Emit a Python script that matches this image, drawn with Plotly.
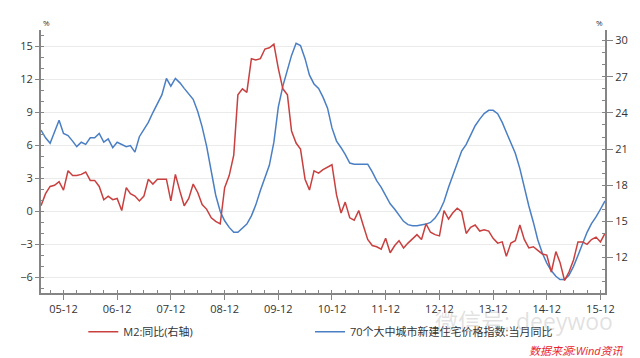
import pandas as pd
import plotly.graph_objects as go

# ---- data (monthly, 2005-07 .. 2016-01) ----
months = pd.date_range("2005-07-01", "2016-01-01", freq="MS")

m2_yoy = [
    16.3, 17.3, 17.9, 18.0, 18.3, 17.6,
    19.2, 18.8, 18.8, 18.9, 19.1, 18.4, 18.4, 17.9, 16.8, 17.1, 16.8, 16.9,
    15.9, 17.8, 17.3, 17.1, 16.7, 17.1, 18.5, 18.1, 18.5, 18.5, 18.5, 16.7,
    18.9, 17.5, 16.3, 16.9, 18.1, 17.4, 16.4, 16.0, 15.3, 15.0, 14.8, 17.8,
    18.8, 20.5, 25.5, 26.0, 25.7, 28.5, 28.4, 28.5, 29.3, 29.4, 29.7, 27.7,
    26.0, 25.5, 22.5, 21.5, 21.0, 18.5, 17.6, 19.2, 19.0, 19.3, 19.5, 19.7,
    17.2, 15.7, 16.6, 15.3, 15.1, 15.9, 14.7, 13.5, 13.0, 12.9, 12.7, 13.6,
    12.4, 13.0, 13.4, 12.8, 13.2, 13.6, 13.9, 13.5, 14.8, 14.1, 13.9, 13.8,
    15.9, 15.2, 15.7, 16.1, 15.8, 14.0, 14.5, 14.7, 14.2, 14.3, 14.2, 13.6,
    13.2, 13.3, 12.1, 13.2, 13.4, 14.7, 13.5, 12.8, 12.9, 12.6, 12.3, 12.2,
    10.8, 12.5, 11.6, 10.1, 10.8, 11.8, 13.3, 13.3, 13.1, 13.5, 13.7, 13.3,
    14.0,
]

house_yoy = [
    7.4, 6.7, 6.2, 7.3, 8.3, 7.1,
    6.9, 6.4, 5.9, 6.3, 6.1, 6.7, 6.7, 7.1, 6.3, 6.6, 5.8, 6.3,
    6.1, 5.9, 6.0, 5.4, 6.8, 7.5, 8.1, 9.0, 9.8, 10.6, 12.1, 11.4,
    12.1, 11.7, 11.2, 10.7, 10.2, 9.1, 7.7, 5.9, 3.7, 1.5, 0.0, -0.85,
    -1.45, -1.9, -1.9, -1.55, -1.15, -0.4, 0.6, 1.9, 3.1, 4.2, 6.3, 9.5,
    11.4, 13.0, 14.2, 15.3, 15.1, 13.9, 12.4, 11.6, 11.2, 10.4, 9.4, 7.6,
    6.4, 5.8, 5.2, 4.4, 4.3, 4.3, 4.3, 4.3, 3.6, 2.8, 2.2, 1.4,
    0.7, 0.2, -0.3, -0.9, -1.2, -1.3, -1.3, -1.25, -1.15, -1.0, -0.6, 0.0,
    0.9, 2.2, 3.2, 4.5, 5.5, 6.1, 7.0, 7.8, 8.4, 8.9, 9.2, 9.2,
    8.9, 8.1, 7.2, 6.2, 5.3, 3.9, 2.1, 0.5, -1.0, -2.6, -3.8, -4.7,
    -5.4, -5.9, -6.2, -6.2, -5.8, -5.0, -4.0, -2.9, -1.9, -1.1, -0.5, 0.2,
    0.96,
]

x_tick_vals = ["2005-12-01", "2006-12-01", "2007-12-01", "2008-12-01", "2009-12-01",
               "2010-12-01", "2011-12-01", "2012-12-01", "2013-12-01", "2014-12-01",
               "2015-12-01"]
x_tick_text = ["05-12", "06-12", "07-12", "08-12", "09-12", "10-12",
               "11-12", "12-12", "13-12", "14-12", "15-12"]
left_ticks = [-6, -3, 0, 3, 6, 9, 12, 15]
right_ticks = [12, 15, 18, 21, 24, 27, 30]

name_m2 = "M2:同比(右轴)"
name_house = "70个大中城市新建住宅价格指数:当月同比"

RED = "#c8403f"
BLUE = "#4a7fc3"
AXIS = "#858585"
FONT = "Open Sans, Noto Sans CJK SC, sans-serif"

fig = go.Figure()
fig.add_trace(go.Scatter(x=months, y=m2_yoy, name=name_m2, yaxis="y2",
                         mode="lines", line=dict(color=RED, width=1.5),
                         legend="legend"))
fig.add_trace(go.Scatter(x=months, y=house_yoy, name=name_house, yaxis="y",
                         mode="lines", line=dict(color=BLUE, width=1.5),
                         legend="legend2"))

# page body has an 8px default margin: size the figure to fill the rest
fig.update_layout(
    width=632, height=350,
    margin=dict(l=24, r=33, t=22, b=63),
    paper_bgcolor="white", plot_bgcolor="white",
    font=dict(family=FONT, size=11, color="#333333"),
    xaxis=dict(
        range=[months[0], months[-1]],
        tickmode="array", tickvals=x_tick_vals, ticktext=x_tick_text,
        showgrid=False, zeroline=False,
        showline=True, linecolor=AXIS, linewidth=2,
        ticks="outside", ticklen=5, tickcolor=AXIS, tickwidth=1,
        tickfont=dict(size=11, color="#333333"),
        minor=dict(tickmode="linear", tick0="2005-12-01", dtick="M3",
                   ticks="inside", ticklen=3, tickcolor=AXIS, showgrid=False),
    ),
    yaxis=dict(
        range=[-7.42, 16.51],
        tickmode="array", tickvals=left_ticks,
        showgrid=True, gridcolor="#ebebeb", gridwidth=1, zeroline=False,
        showline=True, linecolor=AXIS, linewidth=2,
        ticks="outside", ticklen=4, tickcolor=AXIS,
        tickfont=dict(size=11, color="#333333"),
        minor=dict(tickmode="linear", tick0=0, dtick=1, ticks="inside",
                   ticklen=3, tickcolor=AXIS, showgrid=False),
    ),
    yaxis2=dict(
        range=[9.06, 30.88], overlaying="y", side="right",
        tickmode="array", tickvals=right_ticks,
        showgrid=False, zeroline=False,
        showline=True, linecolor=AXIS, linewidth=2,
        ticks="outside", ticklen=6, tickcolor=AXIS,
        tickfont=dict(size=11, color="#333333"),
        minor=dict(tickmode="linear", tick0=0, dtick=1, ticks="inside",
                   ticklen=3, tickcolor=AXIS, showgrid=False),
    ),
    legend=dict(x=0.075, y=-0.147, xanchor="left", yanchor="middle",
                orientation="h", bgcolor="rgba(0,0,0,0)",
                font=dict(size=11, color="#333333")),
    legend2=dict(x=0.477, y=-0.147, xanchor="left", yanchor="middle",
                 orientation="h", bgcolor="rgba(0,0,0,0)",
                 font=dict(size=11, color="#333333")),
    showlegend=True,
)

# axis unit labels
fig.add_annotation(text="%", xref="paper", yref="paper", x=0.0, y=1.0,
                   xanchor="left", yanchor="bottom", showarrow=False,
                   font=dict(size=8, color="#333333"))
fig.add_annotation(text="%", xref="paper", yref="paper", x=1.0, y=1.0,
                   xanchor="right", yanchor="bottom", showarrow=False,
                   font=dict(size=8, color="#333333"))
# watermark
fig.add_annotation(text="微信号: deeywoo", xref="paper", yref="paper",
                   x=1.018, y=-0.105, xanchor="right", yanchor="middle",
                   showarrow=False,
                   font=dict(size=23, color="rgba(170,170,170,0.35)"))
# source
fig.add_annotation(text="<i>数据来源:Wind资讯</i>", xref="paper", yref="paper",
                   x=1.038, y=-0.219, xanchor="right", yanchor="middle",
                   showarrow=False, font=dict(size=11, color="#e8242c"))

fig.write_html("out.html")
